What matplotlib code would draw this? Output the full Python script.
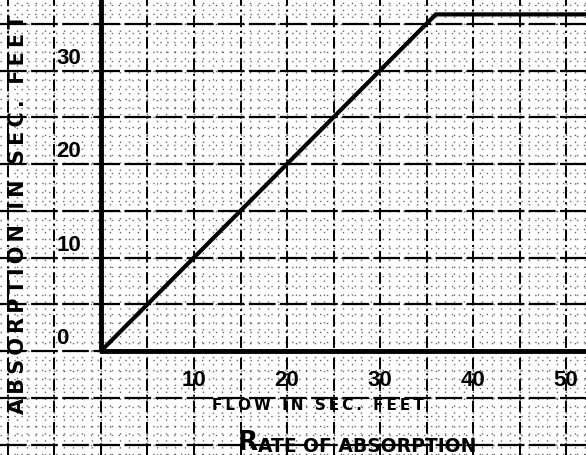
import matplotlib.pyplot as plt
import numpy as np

# Absorption curve: rises 1:1 with flow until capacity, then levels off
flow = [0, 36, 56]
absorption = [0, 36, 36]

x_ticks = [10, 20, 30, 40, 50]
x_tick_labels = ['10', '20', '30', '40', '50']
y_ticks = [0, 10, 20, 30]
y_tick_labels = ['0', '10', '20', '30']


def spaced(s):
    # hand lettering is widely spaced
    return '\u2009'.join(s)


fig = plt.figure(figsize=(5.86, 4.55), dpi=100)
ax = fig.add_axes([0, 0, 1, 1])
ax.set_xlim(-10.86, 52.15)
ax.set_ylim(-11.12, 37.54)
ax.axis('off')

# graph paper: dotted minor rules every unit, dashed major rules every 5
for v in np.arange(-11, 53, 1):
    ax.axvline(v, color='black', lw=1.0, ls=(0, (1, 4)), alpha=0.6, zorder=1)
for v in np.arange(-11, 38, 1):
    ax.axhline(v, color='black', lw=1.0, ls=(0, (1, 4)), alpha=0.6, zorder=1)
for v in np.arange(-10, 53, 5):
    ax.axvline(v, color='black', lw=1.4, ls=(0, (6, 2, 1, 2)), zorder=2)
for v in np.arange(-10, 38, 5):
    ax.axhline(v, color='black', lw=1.6, ls=(0, (12, 2)), zorder=2)

# heavy axes
ax.plot([0, 0], [0, 40], color='black', lw=3.5, solid_capstyle='butt', zorder=3)
ax.plot([0, 60], [0, 0], color='black', lw=3.5, solid_capstyle='butt', zorder=3)

ax.plot(flow, absorption, color='black', lw=3.0, solid_joinstyle='miter', zorder=4)

tick_font = dict(family='Liberation Sans', fontweight='bold',
                 fontsize=16, color='black', zorder=5)
for v, s in zip(x_ticks, x_tick_labels):
    ax.text(v, -3.1, s, ha='center', va='center', **tick_font)
for v, s in zip(y_ticks, y_tick_labels):
    ax.text(-4.8, v + 0.2, s, ha='left', va='bottom', **tick_font)

label_font = dict(family='DejaVu Sans', fontweight='bold', color='black')
fig.text(18 / 586, 1 - 214 / 455, spaced('ABSORPTION IN SEC. FEET'), rotation=90,
         ha='center', va='center', fontsize=15, **label_font)
fig.text(318 / 586, 1 - 406 / 455, spaced('FLOW IN SEC. FEET'), ha='center', va='center',
         fontsize=11, **label_font)

# title in small caps: large R followed by smaller letters
t1 = fig.text(238 / 586, 1 - 450 / 455, 'R', ha='left', va='baseline',
              fontsize=19, **label_font)
ax.annotate('ATE OF ABSORPTION', xy=(1, 0), xycoords=t1, ha='left', va='bottom',
            fontsize=13.5, annotation_clip=False, **label_font)

fig.savefig('out.png', dpi=100)
